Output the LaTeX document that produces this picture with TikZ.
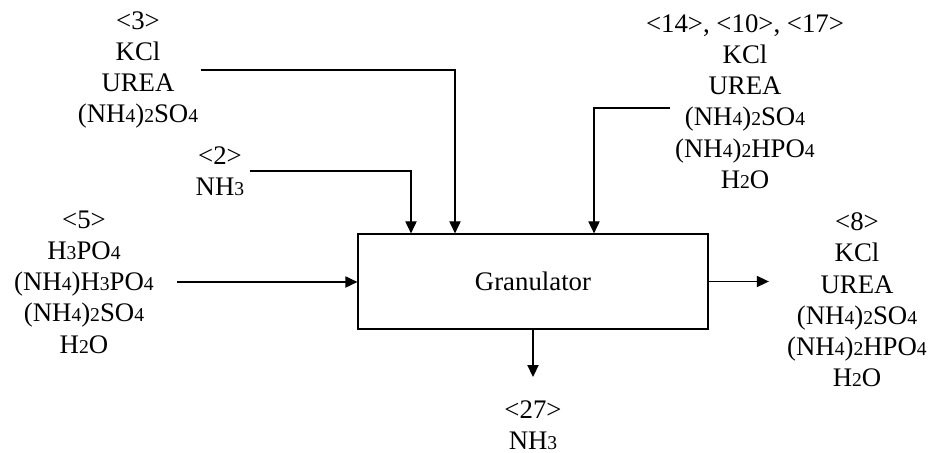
\documentclass[tikz,border=0pt]{standalone}
\usepackage{fontspec}
\setmainfont{Liberation Serif}
\usetikzlibrary{arrows.meta}
\usetikzlibrary{positioning}
\newcommand{\sdig}[1]{{\fontsize{9.8pt}{9.8pt}\selectfont #1}}

\begin{document}
\begin{tikzpicture}[
    x=0.5pt, y=-0.5pt, >={Triangle[length=6pt, width=5.6pt]},
    % stream labels
    stream label/.style={
        align=center,
        inner sep=0pt,
        font=\fontsize{13.4pt}{15.6pt}\selectfont
    },
    % process unit
    unit box/.style={
        draw=black,
        line width=0.6pt,
        minimum width=175pt,
        minimum height=47.5pt,
        font=\fontsize{13.4pt}{15.6pt}\selectfont
    },
    % connectors
    flow edge/.style={->, draw=black, line width=0.6pt}
]
\useasboundingbox (0,0) rectangle (932,453);

% -------------------------------
% Granulator
\node[unit box] (box) at (533,281.5) {Granulator};

% -------------------------------
% Feed streams
\node[stream label] (s3) at (138,70) {<3>\\KCl\\UREA\\(NH\sdig{4})\sdig{2}SO\sdig{4}};
\node[stream label] (s2) at (220,171) {<2>\\NH\sdig{3}};
\node[stream label] (s5) at (84,282) {<5>\\H\sdig{3}PO\sdig{4}\\(NH\sdig{4})H\sdig{3}PO\sdig{4}\\(NH\sdig{4})\sdig{2}SO\sdig{4}\\H\sdig{2}O};
\node[stream label] (s14) at (745,101.5) {<14>, <10>, <17>\\KCl\\UREA\\(NH\sdig{4})\sdig{2}SO\sdig{4}\\(NH\sdig{4})\sdig{2}HPO\sdig{4}\\H\sdig{2}O};
\coordinate (s14 in) at (670,108);

% -------------------------------
% Product streams
\node[stream label] (s8) at (857,300) {<8>\\KCl\\UREA\\(NH\sdig{4})\sdig{2}SO\sdig{4}\\(NH\sdig{4})\sdig{2}HPO\sdig{4}\\H\sdig{2}O};
\node[stream label] (s27) at (533,425) {<27>\\NH\sdig{3}};

% -------------------------------
% Connectors
\draw[flow edge, shorten <=1pt] (s3.east) -| ([xshift=-39pt]box.north);
\draw[flow edge, shorten <=2.5pt] (s2.east) -| ([xshift=-61pt]box.north);
\draw[flow edge] (s14 in) -| ([xshift=30.5pt]box.north);
\draw[flow edge, shorten <=11.5pt] (s5.east) -- (s5.east -| box.west);
\draw[flow edge, shorten >=9pt] (box.east) -- (box.east -| s8.west);
\draw[flow edge, shorten >=11.5pt] (box.south) -- (box.south |- s27.north);
\end{tikzpicture}
\end{document}
